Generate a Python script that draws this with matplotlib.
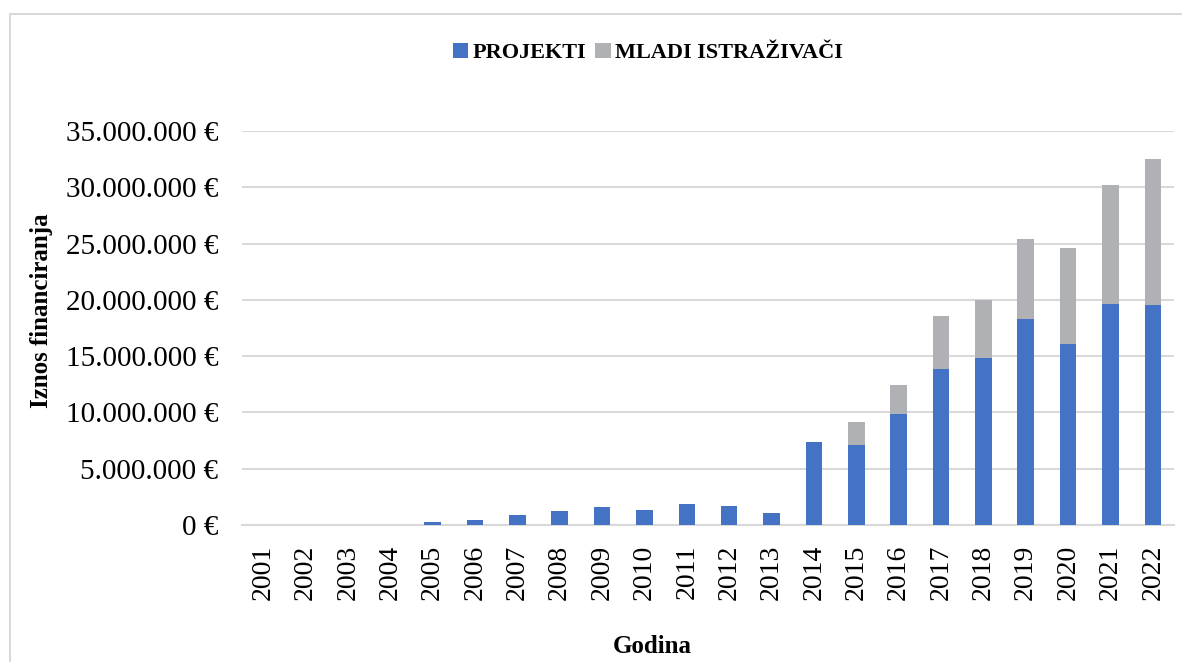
import matplotlib
matplotlib.use("Agg")
import matplotlib.pyplot as plt
import numpy as np
from matplotlib.ticker import FuncFormatter
from matplotlib.patches import Rectangle

# Data (EUR)
years = [str(y) for y in range(2001, 2023)]
projekti = [0, 0, 0, 0, 240000, 420000, 890000, 1240000, 1600000, 1330000,
            1870000, 1700000, 1070000, 7350000, 7100000, 9860000, 13850000,
            14830000, 18300000, 16100000, 19600000, 19500000]
mladi = [0, 0, 0, 0, 0, 0, 0, 0, 0, 0,
         0, 0, 0, 0, 2070000, 2540000, 4750000, 5170000, 7100000, 8500000,
         10600000, 13000000]

blue = "#4472c4"
gray = "#b0b1b5"
grid = "#d9d9d9"

plt.rcParams['font.family'] = ['Liberation Serif', 'DejaVu Serif']


def euro_fmt(v, pos):
    return "{:,.0f} €".format(v).replace(",", ".")


fig = plt.figure(figsize=(11.82, 6.62), dpi=100)
fig.patches.append(Rectangle((10 / 1182, -0.01), 1.1, 1 - 14 / 662 + 0.01,
                             transform=fig.transFigure, fill=False,
                             edgecolor="#d9d9d9", linewidth=1.5))

ax = fig.add_axes([242 / 1182, 1 - 525 / 662, (1174 - 242) / 1182, (525 - 131) / 662])
x = np.arange(len(years))
ax.bar(x, projekti, width=0.39, color=blue, label="PROJEKTI", zorder=3)
ax.bar(x, mladi, width=0.39, bottom=projekti, color=gray,
       label="MLADI ISTRAŽIVAČI", zorder=3)

ax.set_ylim(0, 35000000)
ax.set_xlim(-0.5, len(years) - 0.5)
ax.set_yticks(np.arange(0, 35000001, 5000000))
ax.yaxis.set_major_formatter(FuncFormatter(euro_fmt))
ax.set_xticks(x)
ax.set_xticklabels(years, rotation=90)
ax.tick_params(axis='y', length=0, labelsize=21, pad=17)
ax.tick_params(axis='x', length=0, labelsize=20, pad=14)
ax.yaxis.grid(True, color=grid, linewidth=1.5, zorder=0)
for s in ['top', 'right', 'left']:
    ax.spines[s].set_visible(False)
ax.spines['bottom'].set_color(grid)
ax.spines['bottom'].set_linewidth(1.5)

ax.set_ylabel("Iznos financiranja", fontsize=18, fontweight='bold')
ax.yaxis.set_label_coords(-0.203, 0.545)
ax.set_xlabel("Godina", fontsize=18, fontweight='bold')
ax.xaxis.set_label_coords(0.44, -0.28)

fig.legend(loc='center', bbox_to_anchor=(648 / 1182, 1 - 53 / 662), ncol=2,
           frameon=False, prop={'weight': 'bold', 'size': 16},
           handlelength=0.7, handleheight=0.7, handletextpad=0.2,
           columnspacing=0.4)

fig.savefig("out.png", dpi=100)
